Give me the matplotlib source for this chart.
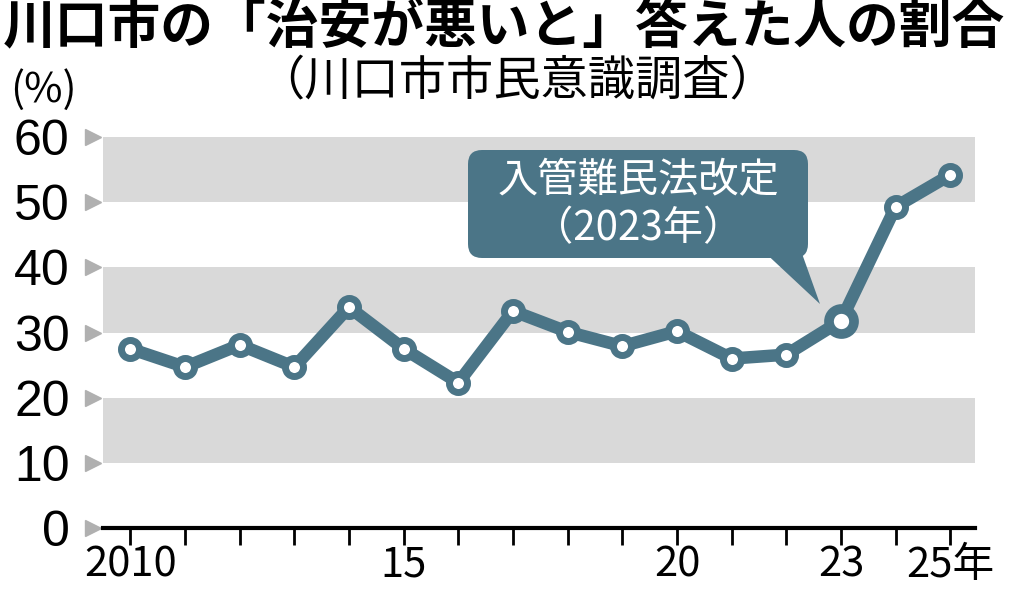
import matplotlib.pyplot as plt
from matplotlib.patches import FancyBboxPatch, Polygon

plt.rcParams['font.family'] = ['Noto Sans CJK JP', 'DejaVu Sans']

years = list(range(2010, 2026))
values = [27.5, 24.7, 28.1, 24.7, 33.9, 27.5, 22.3, 33.3, 30.1, 27.9, 30.2, 26.0, 26.6, 31.8, 49.3, 54.2]
tick_years = [2010, 2015, 2020, 2023, 2025]
tick_labels = ['2010', '15', '20', '23', '25年']
color = '#4b7587'

fig = plt.figure(figsize=(10.24, 6.04), dpi=100)
ax = fig.add_axes([0.1006, 0.126, 0.852, 0.647])
ax.set_xlim(2009.5, 2025.46)
ax.set_ylim(0, 60)

for lo in (10, 30, 50):
    ax.axhspan(lo, lo + 10, color='#d9d9d9', lw=0, zorder=0)

ax.plot(years, values, color=color, lw=9, zorder=2, solid_joinstyle='round')
ax.plot(years[:-3] + years[-2:], values[:-3] + values[-2:], 'o', ms=13, mfc='white',
        mec=color, mew=5, ls='none', zorder=3)
ax.plot([2023], [31.8], 'o', ms=18, mfc='white', mec=color, mew=7, zorder=3)

for s in ('top', 'right', 'left'):
    ax.spines[s].set_visible(False)
ax.spines['bottom'].set_linewidth(3)
ax.set_xticks(years, minor=True)
ax.set_xticks(tick_years)
ax.set_xticklabels(tick_labels, fontsize=30)
ax.tick_params(axis='x', which='both', length=12, width=2, direction='out', pad=0)
ax.set_yticks(range(0, 61, 10))
ax.set_yticklabels([str(v) for v in range(0, 61, 10)], fontsize=36, family='Liberation Sans')
ax.tick_params(axis='y', length=0, pad=24)
for v in range(0, 61, 10):
    ax.plot(-0.012, v, marker='>', ms=11, color='#b0b0b0', transform=ax.get_yaxis_transform(),
            clip_on=False)

# callout
box = FancyBboxPatch((468, 346), 340, 108, boxstyle='round,pad=0,rounding_size=14',
                     transform=None, fc=color, ec='none', zorder=4)
fig.patches.append(box)
fig.patches.append(Polygon([(760, 356), (800, 356), (820, 300)], closed=True,
                           transform=None, fc=color, ec='none', zorder=4))
fig.text(638, 423, '入管難民法改定', transform=None, color='white', fontsize=29,
         ha='center', va='center', zorder=5)
fig.text(638, 375, '（2023年）', transform=None, color='white', fontsize=29,
         ha='center', va='center', zorder=5)

fig.text(0.003, 1.0, '川口市の「治安が悪いと」答えた人の割合', fontsize=38,
         fontweight='bold', va='top', ha='left')
fig.text(0.505, 0.905, '（川口市市民意識調査）', fontsize=34, va='top', ha='center')
fig.text(0.01, 0.885, '(%)', fontsize=30, va='top', ha='left')

fig.savefig('out.png', dpi=100)
